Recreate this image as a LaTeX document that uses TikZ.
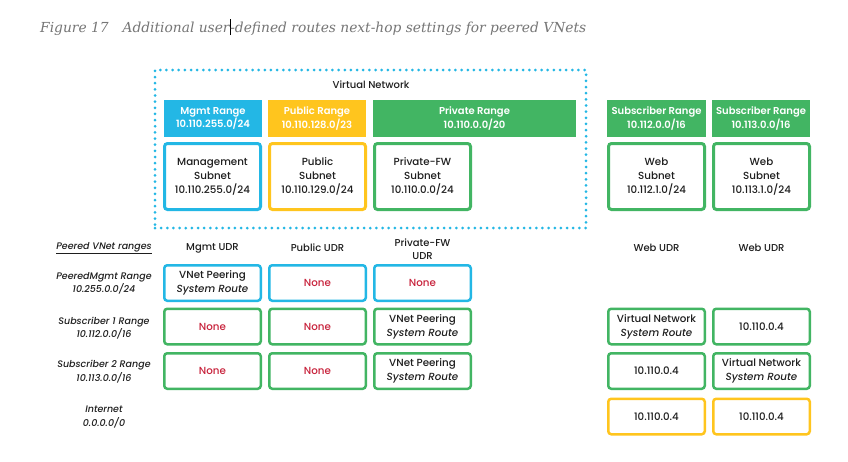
\documentclass[tikz,border=0pt]{standalone}
\usepackage{fontspec}
\setmainfont{Poppins}
\newfontfamily\popmed{Poppins Medium}[ItalicFont={Poppins Medium Italic}]
\newfontfamily\popsemi{Poppins SemiBold}
\newfontfamily\captionserif{DejaVu Serif}

\definecolor{vnCyan}{RGB}{35,183,229}
\definecolor{vnYellow}{RGB}{255,197,30}
\definecolor{vnGreen}{RGB}{66,181,99}
\definecolor{vnRed}{RGB}{200,35,60}
\definecolor{vnGrey}{RGB}{118,118,118}
\definecolor{vnText}{RGB}{30,30,30}

\tikzset{
  rangebox/.style={fill=#1, text=white, inner sep=0pt, minimum height=37pt,
    align=center, font=\fontsize{10}{13.5}\selectfont\popsemi},
  subnetbox/.style={draw=#1, line width=3pt, rounded corners=3pt, fill=white,
    minimum width=96pt, minimum height=66pt, inner sep=0pt, align=center,
    text=vnText, font=\fontsize{10.3}{14}\selectfont\popmed},
  udrcell/.style={draw=#1, line width=2.5pt, rounded corners=3pt,
    minimum width=96.5pt, minimum height=35.5pt, inner sep=0pt, align=center,
    text=vnText, font=\fontsize{10.3}{14}\selectfont\popmed},
  nonecell/.style={udrcell=#1, text=vnRed},
  colhead/.style={align=center, text=vnText, font=\fontsize{10}{13}\selectfont\popmed},
  rowhead/.style={align=center, text=vnText, font=\fontsize{9.5}{13.5}\selectfont\popmed\itshape},
  vnetframe/.style={draw=vnCyan, line width=3pt, line cap=round,
    dash pattern=on 0pt off 6.15pt, minimum width=431pt, minimum height=158pt,
    inner sep=0pt}
}

\begin{document}
\begin{tikzpicture}[x=1pt, y=-1pt]
  \useasboundingbox[fill=white] (0,0) rectangle (848,461);

  % caption
  \node[anchor=base west, inner sep=0pt, text=vnGrey,
        font=\fontsize{13.8}{16}\selectfont\captionserif\itshape] (caption) at (40,32)
    {Figure 17\hspace{14pt}Additional user{\color{black}\rule[-3pt]{0.7pt}{16pt}}-defined routes next-hop settings for peered VNets};

  % virtual network frame
  \node[vnetframe] (vnet) at (370.5,149) {};
  \node[colhead] (vnetlabel) at (371,85) {Virtual Network};

  % address ranges
  \node[rangebox=vnCyan,   minimum width=98pt]  (mgmtRange) at (213,118.5)   {Mgmt Range\\10.110.255.0/24};
  \node[rangebox=vnYellow, minimum width=98pt]  (pubRange)  at (317,118.5)   {Public Range\\10.110.128.0/23};
  \node[rangebox=vnGreen,  minimum width=203pt] (privRange) at (474.5,118.5) {Private Range\\10.110.0.0/20};
  \node[rangebox=vnGreen,  minimum width=99pt]  (sub1Range) at (656.5,118.5) {Subscriber Range\\10.112.0.0/16};
  \node[rangebox=vnGreen,  minimum width=98pt]  (sub2Range) at (761,118.5)   {Subscriber Range\\10.113.0.0/16};

  % subnets
  \node[subnetbox=vnCyan]   (mgmtSub) at (212.5,176.5) {Management\\Subnet\\10.110.255.0/24};
  \node[subnetbox=vnYellow] (pubSub)  at (317.5,176.5) {Public\\Subnet\\10.110.129.0/24};
  \node[subnetbox=vnGreen]  (fwSub)   at (422.5,176.5) {Private-FW\\Subnet\\10.110.0.0/24};
  \node[subnetbox=vnGreen]  (web1Sub) at (656.5,176.5) {Web\\Subnet\\10.112.1.0/24};
  \node[subnetbox=vnGreen]  (web2Sub) at (761.5,176.5) {Web\\Subnet\\10.113.1.0/24};

  % column headings
  \node[rowhead] (peeredHead) at (104,248) {\underline{Peered VNet ranges}};
  \node[colhead] (mgmtUDR) at (212.5,248) {Mgmt UDR};
  \node[colhead] (pubUDR)  at (317.5,248) {Public UDR};
  \node[colhead] (fwUDR)   at (422.5,249) {Private-FW\\UDR};
  \node[colhead] (web1UDR) at (656.5,248) {Web UDR};
  \node[colhead] (web2UDR) at (761.5,248) {Web UDR};

  % row headings
  \node[rowhead] (rowMgmt) at (104,283.5) {PeeredMgmt Range\\10.255.0.0/24};
  \node[rowhead] (rowSub1) at (104,328)   {Subscriber 1 Range\\10.112.0.0/16};
  \node[rowhead] (rowSub2) at (104,371.5) {Subscriber 2 Range\\10.113.0.0/16};
  \node[rowhead] (rowNet)  at (104,417)   {Internet\\0.0.0.0/0};

  % PeeredMgmt range
  \node[udrcell=vnCyan]  (m1) at (212.5,283) {VNet Peering\\\textit{System Route}};
  \node[nonecell=vnCyan] (m2) at (317.5,283) {None};
  \node[nonecell=vnCyan] (m3) at (422.5,283) {None};

  % Subscriber 1 range
  \node[nonecell=vnGreen] (a1) at (212.5,326.5) {None};
  \node[nonecell=vnGreen] (a2) at (317.5,326.5) {None};
  \node[udrcell=vnGreen]  (a3) at (422.5,326.5) {VNet Peering\\\textit{System Route}};
  \node[udrcell=vnGreen]  (a4) at (656.5,326.5) {Virtual Network\\\textit{System Route}};
  \node[udrcell=vnGreen]  (a5) at (761.5,326.5) {10.110.0.4};

  % Subscriber 2 range
  \node[nonecell=vnGreen] (b1) at (212.5,371) {None};
  \node[nonecell=vnGreen] (b2) at (317.5,371) {None};
  \node[udrcell=vnGreen]  (b3) at (422.5,371) {VNet Peering\\\textit{System Route}};
  \node[udrcell=vnGreen]  (b4) at (656.5,371) {10.110.0.4};
  \node[udrcell=vnGreen]  (b5) at (761.5,371) {Virtual Network\\\textit{System Route}};

  % Internet
  \node[udrcell=vnYellow] (c4) at (656.5,416.5) {10.110.0.4};
  \node[udrcell=vnYellow] (c5) at (761.5,416.5) {10.110.0.4};
\end{tikzpicture}
\end{document}
